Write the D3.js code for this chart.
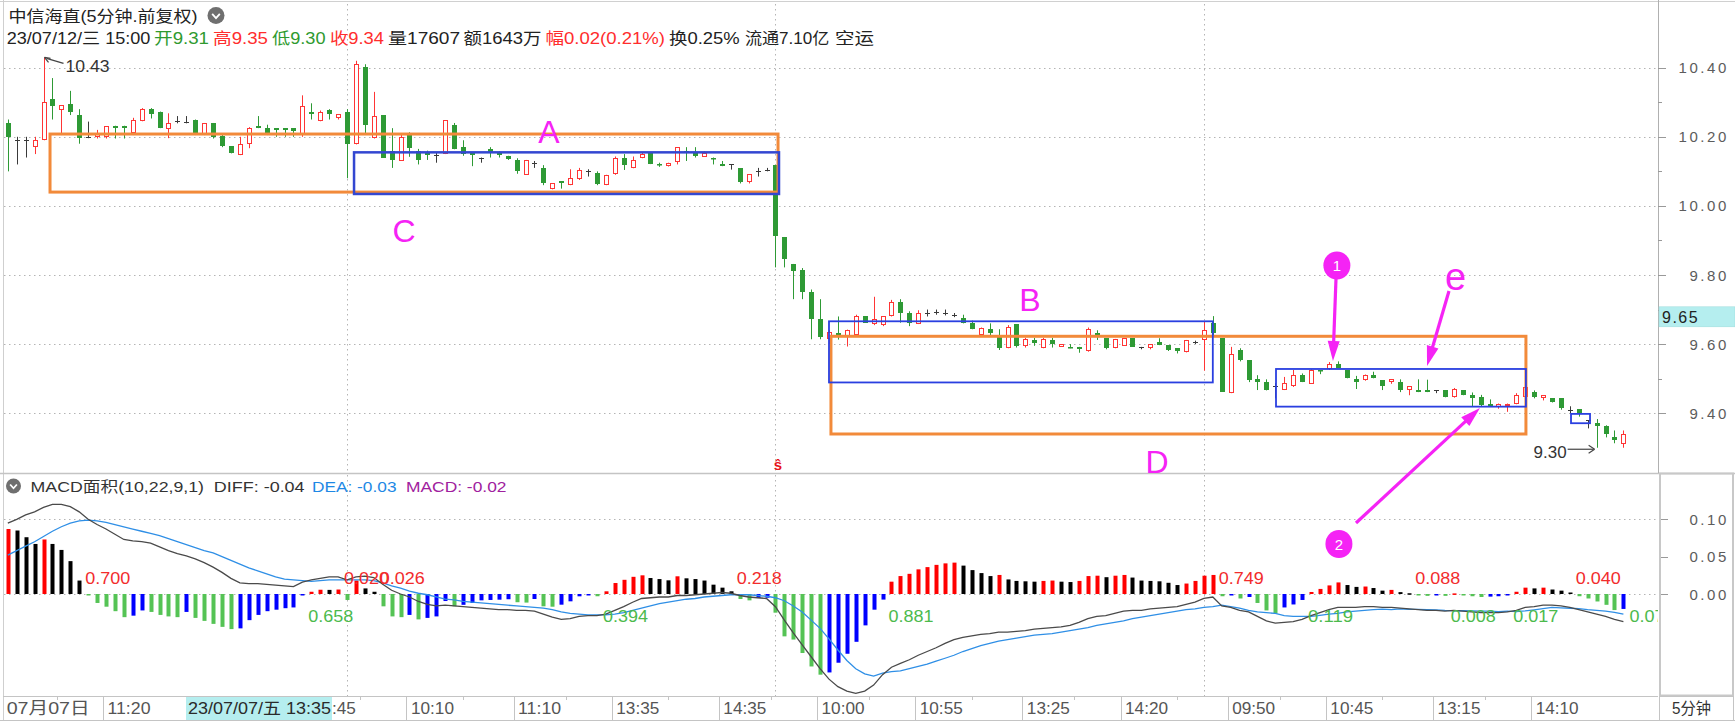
<!DOCTYPE html>
<html><head><meta charset="utf-8">
<script src="https://cdn.jsdelivr.net/npm/d3@7"></script>
<style>
html,body{margin:0;padding:0;background:#fff;}
svg{display:block;}
text{font-family:'Liberation Sans','Noto Sans CJK SC',sans-serif;}
</style></head><body>
<svg id="c" width="1735" height="725"></svg>
<script>
// ---------------- DATA ----------------
const opens=[10.24,10.19,10.19,10.17,10.19,10.31,10.277,10.294,10.263,10.20,
10.20,10.20,10.232,10.232,10.21,10.246,10.28,10.273,10.222,10.245,
10.243,10.25,10.205,10.24,10.202,10.173,10.147,10.18,10.232,10.225,
10.225,10.225,10.225,10.205,10.273,10.247,10.278,10.255,10.273,10.18,
10.403,10.196,10.263,10.16,10.13,10.21,10.16,10.155,10.148,10.15,
10.234,10.17,10.153,10.14,10.166,10.155,10.143,10.133,10.09,10.125,
10.11,10.05,10.072,10.06,10.077,10.10,10.094,10.06,10.092,10.14,
10.109,10.138,10.152,10.12,10.116,10.128,10.16,10.152,10.142,10.14,
10.12,10.12,10.109,10.07,10.10,10.105,10.118,9.91,9.832,9.815,
9.752,9.672,9.615,9.632,9.62,9.626,9.68,9.658,9.655,9.68,
9.723,9.69,9.658,9.69,9.692,9.69,9.685,9.675,9.66,9.626,
9.645,9.626,9.588,9.658,9.595,9.612,9.59,9.612,9.592,9.593,
9.592,9.58,9.632,9.617,9.588,9.595,9.617,9.592,9.588,9.607,
9.597,9.588,9.578,9.607,9.612,9.66,9.617,9.458,9.583,9.553,
9.498,9.49,9.48,9.467,9.478,9.51,9.485,9.525,9.527,9.543,
9.525,9.498,9.496,9.512,9.496,9.49,9.49,9.466,9.466,9.466,
9.466,9.467,9.447,9.466,9.453,9.448,9.428,9.419,9.421,9.428,
9.446,9.462,9.443,9.443,9.443,9.41,9.411,9.38,9.373,9.363,
9.331,9.31];
const highs=[10.25,10.20,10.20,10.20,10.43,10.37,10.29,10.333,10.28,10.244,
10.22,10.23,10.232,10.232,10.255,10.283,10.283,10.273,10.268,10.26,
10.26,10.25,10.24,10.24,10.205,10.173,10.20,10.228,10.26,10.235,
10.225,10.225,10.225,10.32,10.297,10.276,10.28,10.266,10.28,10.42,
10.41,10.33,10.263,10.225,10.21,10.213,10.165,10.16,10.155,10.248,
10.24,10.19,10.153,10.14,10.17,10.158,10.145,10.138,10.133,10.13,
10.118,10.065,10.072,10.106,10.11,10.106,10.10,10.09,10.143,10.15,
10.143,10.155,10.155,10.125,10.125,10.17,10.17,10.17,10.158,10.14,
10.13,10.12,10.109,10.092,10.11,10.11,10.118,9.91,9.832,9.82,
9.758,9.73,9.64,9.68,9.642,9.685,9.68,9.737,9.68,9.728,
9.73,9.695,9.698,9.70,9.70,9.70,9.69,9.685,9.668,9.648,
9.66,9.643,9.655,9.658,9.618,9.618,9.618,9.618,9.60,9.60,
9.592,9.648,9.64,9.617,9.615,9.617,9.617,9.592,9.60,9.617,
9.597,9.588,9.612,9.61,9.665,9.681,9.617,9.592,9.588,9.553,
9.51,9.498,9.487,9.505,9.525,9.515,9.527,9.525,9.548,9.55,
9.525,9.508,9.512,9.52,9.496,9.499,9.498,9.478,9.498,9.497,
9.466,9.467,9.473,9.466,9.46,9.453,9.44,9.428,9.428,9.458,
9.482,9.466,9.452,9.443,9.443,9.42,9.411,9.38,9.383,9.365,
9.35,9.35];
const lows=[10.10,10.12,10.14,10.15,10.19,10.25,10.205,10.263,10.18,10.196,
10.195,10.195,10.195,10.195,10.205,10.245,10.253,10.225,10.196,10.239,
10.239,10.205,10.205,10.195,10.17,10.152,10.147,10.167,10.225,10.205,
10.20,10.20,10.20,10.20,10.25,10.245,10.25,10.25,10.08,10.178,
10.21,10.195,10.14,10.11,10.13,10.142,10.12,10.133,10.125,10.15,
10.164,10.145,10.115,10.125,10.14,10.14,10.133,10.093,10.09,10.11,
10.06,10.048,10.05,10.06,10.075,10.085,10.06,10.06,10.09,10.104,
10.109,10.138,10.121,10.113,10.114,10.12,10.13,10.14,10.142,10.12,
10.115,10.105,10.065,10.065,10.085,10.10,9.822,9.822,9.73,9.73,
9.614,9.614,9.60,9.613,9.593,9.626,9.662,9.655,9.652,9.68,
9.662,9.652,9.658,9.68,9.685,9.683,9.678,9.66,9.643,9.626,
9.626,9.583,9.588,9.59,9.59,9.595,9.588,9.59,9.592,9.588,
9.575,9.578,9.612,9.585,9.588,9.595,9.593,9.585,9.585,9.597,
9.58,9.573,9.576,9.60,9.523,9.626,9.462,9.458,9.55,9.49,
9.467,9.466,9.443,9.467,9.476,9.49,9.485,9.513,9.525,9.532,
9.501,9.47,9.494,9.501,9.467,9.485,9.461,9.452,9.461,9.461,
9.458,9.446,9.445,9.452,9.419,9.419,9.419,9.413,9.404,9.426,
9.446,9.443,9.437,9.431,9.41,9.40,9.39,9.356,9.30,9.33,
9.313,9.30];
const closes=[10.20,10.19,10.19,10.19,10.30,10.29,10.292,10.271,10.196,10.20,
10.21,10.23,10.225,10.225,10.249,10.28,10.265,10.225,10.24,10.245,
10.243,10.205,10.24,10.20,10.173,10.152,10.18,10.225,10.225,10.21,
10.22,10.22,10.218,10.29,10.266,10.273,10.266,10.265,10.18,10.41,
10.234,10.26,10.14,10.133,10.20,10.167,10.133,10.148,10.148,10.248,
10.164,10.15,10.147,10.14,10.157,10.148,10.135,10.10,10.133,10.125,
10.065,10.065,10.065,10.08,10.104,10.10,10.063,10.09,10.14,10.118,
10.133,10.15,10.121,10.117,10.125,10.17,10.155,10.145,10.152,10.135,
10.115,10.12,10.07,10.092,10.10,10.105,9.913,9.845,9.812,9.752,
9.672,9.621,9.635,9.625,9.641,9.68,9.662,9.672,9.68,9.723,
9.69,9.662,9.69,9.69,9.692,9.69,9.685,9.66,9.643,9.648,
9.633,9.588,9.65,9.595,9.615,9.603,9.615,9.60,9.60,9.588,
9.587,9.643,9.622,9.588,9.615,9.617,9.593,9.592,9.60,9.597,
9.583,9.58,9.612,9.607,9.64,9.631,9.462,9.571,9.553,9.496,
9.491,9.468,9.48,9.488,9.51,9.49,9.525,9.521,9.542,9.532,
9.501,9.491,9.512,9.503,9.479,9.499,9.466,9.478,9.461,9.461,
9.466,9.446,9.471,9.452,9.443,9.423,9.419,9.428,9.428,9.452,
9.477,9.446,9.452,9.431,9.414,9.41,9.398,9.38,9.362,9.34,
9.323,9.34];
const macdHist=[0.087,0.085,0.076,0.067,0.073,0.067,0.059,0.044,0.018,-0.002,
-0.012,-0.017,-0.023,-0.031,-0.029,-0.022,-0.024,-0.028,-0.030,-0.031,
-0.024,-0.032,-0.036,-0.040,-0.044,-0.047,-0.046,-0.035,-0.028,-0.023,
-0.021,-0.019,-0.018,-0.002,0.003,0.0057,0.0055,0.006,-0.008,0.018,
0.0075,0.003,-0.0165,-0.030,-0.031,-0.028,-0.034,-0.032,-0.030,-0.0094,
-0.0165,-0.0145,-0.012,-0.0085,-0.008,-0.0076,-0.007,-0.011,-0.0115,-0.0067,
-0.0165,-0.017,-0.0143,-0.0098,-0.0031,-0.001,-0.003,0.0036,0.0147,0.019,
0.023,0.025,0.0214,0.020,0.0183,0.0237,0.021,0.020,0.018,0.0125,
0.0085,0.0036,-0.0067,-0.0085,-0.0054,-0.005,-0.025,-0.0567,-0.061,-0.079,
-0.097,-0.108,-0.105,-0.092,-0.080,-0.064,-0.042,-0.021,-0.0075,0.0165,
0.024,0.027,0.033,0.036,0.039,0.041,0.042,0.038,0.032,0.028,
0.024,0.0255,0.0195,0.0175,0.017,0.0165,0.0175,0.018,0.0165,0.016,
0.0175,0.024,0.0245,0.0225,0.0245,0.0255,0.022,0.018,0.0175,0.017,
0.015,0.012,0.014,0.0175,0.0245,0.0255,-0.003,-0.002,-0.006,-0.004,
-0.012,-0.022,-0.026,-0.018,-0.014,-0.008,0.0027,0.0068,0.0115,0.0155,
0.012,0.0095,0.010,0.008,0.0045,0.0055,0.0025,0.001,-0.0015,-0.0025,
-0.0015,-0.0025,0.0008,-0.0015,-0.003,-0.004,-0.0035,-0.003,-0.002,0.003,
0.0085,0.0075,0.0085,0.006,0.0045,0.002,-0.003,-0.006,-0.010,-0.0145,
-0.0215,-0.020];
const diffLine=[0.095,0.100,0.106,0.110,0.116,0.120,0.120,0.117,0.110,0.100,
0.093,0.087,0.080,0.073,0.071,0.070,0.068,0.063,0.058,0.054,
0.051,0.047,0.042,0.036,0.029,0.021,0.015,0.014,0.014,0.013,
0.012,0.011,0.010,0.016,0.019,0.021,0.023,0.023,0.019,0.023,
0.024,0.022,0.013,0.005,0.000,-0.004,-0.010,-0.014,-0.016,-0.015,
-0.016,-0.017,-0.018,-0.019,-0.020,-0.021,-0.021,-0.022,-0.022,-0.023,
-0.027,-0.031,-0.034,-0.033,-0.030,-0.029,-0.029,-0.027,-0.022,-0.017,
-0.011,-0.006,-0.005,-0.004,-0.004,-0.002,-0.002,-0.001,0.000,0.001,
0.002,0.001,-0.002,-0.004,-0.005,-0.006,-0.017,-0.035,-0.052,-0.068,
-0.084,-0.100,-0.114,-0.124,-0.130,-0.133,-0.130,-0.122,-0.108,-0.098,
-0.093,-0.088,-0.082,-0.077,-0.072,-0.066,-0.061,-0.058,-0.056,-0.054,
-0.053,-0.051,-0.051,-0.050,-0.049,-0.047,-0.046,-0.045,-0.044,-0.042,
-0.038,-0.033,-0.030,-0.029,-0.026,-0.023,-0.022,-0.022,-0.020,-0.019,
-0.018,-0.017,-0.014,-0.011,-0.006,-0.004,-0.016,-0.018,-0.022,-0.024,
-0.030,-0.036,-0.039,-0.038,-0.037,-0.034,-0.029,-0.025,-0.021,-0.018,
-0.018,-0.018,-0.017,-0.017,-0.018,-0.018,-0.019,-0.020,-0.021,-0.022,
-0.022,-0.023,-0.022,-0.023,-0.024,-0.025,-0.025,-0.025,-0.024,-0.022,
-0.018,-0.017,-0.015,-0.015,-0.016,-0.018,-0.021,-0.024,-0.027,-0.030,
-0.034,-0.037];
const deaLine=[0.052,0.058,0.064,0.070,0.077,0.084,0.090,0.095,0.098,0.099,
0.098,0.096,0.093,0.090,0.087,0.084,0.081,0.078,0.074,0.070,
0.066,0.062,0.058,0.055,0.050,0.045,0.040,0.035,0.031,0.027,
0.023,0.020,0.019,0.018,0.017,0.018,0.019,0.019,0.019,0.019,
0.019,0.018,0.015,0.011,0.008,0.004,0.001,-0.001,-0.004,-0.007,
-0.008,-0.010,-0.011,-0.012,-0.013,-0.014,-0.015,-0.016,-0.017,-0.018,
-0.019,-0.021,-0.024,-0.026,-0.027,-0.028,-0.028,-0.028,-0.027,-0.025,
-0.022,-0.019,-0.016,-0.013,-0.011,-0.009,-0.007,-0.006,-0.004,-0.003,
-0.002,-0.001,-0.001,-0.001,-0.002,-0.003,-0.005,-0.009,-0.016,-0.024,
-0.035,-0.046,-0.060,-0.075,-0.089,-0.100,-0.107,-0.110,-0.106,-0.104,
-0.103,-0.100,-0.097,-0.094,-0.090,-0.086,-0.082,-0.077,-0.073,-0.069,
-0.066,-0.063,-0.061,-0.059,-0.057,-0.055,-0.054,-0.053,-0.051,-0.049,
-0.047,-0.045,-0.042,-0.040,-0.038,-0.036,-0.033,-0.031,-0.029,-0.027,
-0.025,-0.023,-0.021,-0.020,-0.018,-0.017,-0.015,-0.017,-0.019,-0.022,
-0.024,-0.025,-0.026,-0.029,-0.030,-0.030,-0.030,-0.0285,-0.027,-0.0258,
-0.024,-0.0228,-0.022,-0.021,-0.0203,-0.0208,-0.020,-0.0205,-0.0205,-0.021,
-0.0213,-0.022,-0.0224,-0.0224,-0.0225,-0.023,-0.023,-0.0235,-0.023,-0.0235,
-0.0225,-0.0212,-0.0197,-0.018,-0.0185,-0.0191,-0.0195,-0.021,-0.022,-0.023,
-0.0245,-0.027];
const dayStarts=[38,86,134];
const xTickLabels=[[0,"07月07日"],[11,"11:20"],[34,"14:45"],[45,"10:10"],[57,"11:10"],[68,"13:35"],[80,"14:35"],[91,"10:00"],[102,"10:55"],[114,"13:25"],[125,"14:20"],[137,"09:50"],[148,"10:45"],[160,"13:15"],[171,"14:10"]];
const priceTicks=[10.40,10.20,10.00,9.80,9.60,9.40];
const priceMinorTicks=[10.30,10.10,9.90,9.70,9.50];
const macdTicks=[0.10,0.05,0.00];
const areaLabels=[[8,"0.700"],[33,"0.658"],[37,"0.020"],[41,"0.026"],[66,"0.394"],[81,"0.218"],[98,"0.881"],[135,"0.749"],[145,"0.119"],[157,"0.088"],[161,"0.008"],[168,"0.017"],[175,"0.040"],[181,"0.075"]];
const crossIndex=20, crossLabel="23/07/07/五 13:35";
const crossPrice=9.65;
// annotations in data space: [startIndex, endIndex, priceTop, priceBottom, kind]
const annoBoxes=[[4.73,86.29,10.208,10.040,"o"],[92.22,170.08,9.6226,9.3398,"o"],[38.79,86.4,10.155,10.0345,"b"],[92.0,135.0,9.666,9.489,"b2"],[142.08,170.08,9.528,9.419,"b2"],[175.13,177.26,9.398,9.371,"b2"]];
const annoLetters=[["A",60.63,10.182,32],["C",44.39,9.895,32],["B",114.52,9.696,32],["D",128.75,9.2255,32],["e",162.19,9.7566,38]];
const annoCircles=[["1",148.9,9.8275],["2",149.13,9.0214]];
const annoArrows=[[148.8,9.7885,148.46,9.5511],[161.46,9.7537,159.0,9.5366],[151.04,9.0822,164.93,9.4151]];

// ---------------- LAYOUT ----------------
const svg=d3.select('#c');
const N=closes.length;
const PR=1658, PB=473, MB=696, AB=720;
const x=d3.scaleLinear().domain([0,N-1]).range([7.8,7.8+(N-1)*8.926]);
const y=d3.scaleLinear().domain([9.40,10.40]).range([413.2,67.7]);
const ym=d3.scaleLinear().domain([0,0.10]).range([594,519.3]);
const RED="#ff3535", GREEN="#2e9a35", BLK="#3a3a3a", GRID="#b4b4b4", MAG="#f523f5";

svg.append('rect').attr('width',1735).attr('height',725).attr('fill','#fff');
const defs=svg.append('defs');
defs.append('clipPath').attr('id','cp').append('rect').attr('x',3).attr('y',0).attr('width',PR-3).attr('height',PB);
defs.append('clipPath').attr('id','cm').append('rect').attr('x',3).attr('y',PB).attr('width',PR-3).attr('height',MB-PB);

// frame lines
function ln(x1,y1,x2,y2,c,w,dash){const l=svg.append('line').attr('x1',x1).attr('y1',y1).attr('x2',x2).attr('y2',y2).attr('stroke',c).attr('stroke-width',w||1);if(dash)l.attr('stroke-dasharray',dash);return l;}
ln(0,1.5,1735,1.5,"#d0d0d0",1);
ln(3.5,0,3.5,AB,"#cfcfcf",1);
ln(0,PB+0.5,1735,PB+0.5,"#c4c4c4",1.5);
ln(3,MB+0.5,PR,MB+0.5,"#c4c4c4",1);
ln(0,AB+0.5,1735,AB+0.5,"#c4c4c4",1);
ln(PR+0.5,0,PR+0.5,PB,"#b0b0b0",1);

// grids
priceTicks.forEach(p=>ln(4,Math.round(y(p))+0.5,PR,Math.round(y(p))+0.5,GRID,1,"1.5,3.5"));
[0.10,0.00].forEach(v=>ln(4,Math.round(ym(v))+0.5,PR,Math.round(ym(v))+0.5,GRID,1,"1.5,3.5"));
dayStarts.forEach(i=>{const xx=Math.round(x(i))+0.5;ln(xx,4,xx,PB,GRID,1,"1.5,3.5");ln(xx,PB+2,xx,MB,GRID,1,"1.5,3.5");});

// right axis
priceTicks.forEach(p=>{const yy=Math.round(y(p))+0.5;ln(PR,yy,PR+8,yy,"#999",1);
  svg.append('text').attr('x',1729).attr('y',y(p)+5.5).attr('text-anchor','end').attr('font-size',15).attr('letter-spacing',2.6).attr('fill','#5c5c5c').text(p.toFixed(2));});
priceMinorTicks.forEach(p=>{const yy=Math.round(y(p))+0.5;ln(PR,yy,PR+4,yy,"#999",1);});
svg.append('rect').attr('x',1660).attr('y',PB+0.5).attr('width',73).attr('height',MB-PB-1).attr('fill','none').attr('stroke','#c8c8c8').attr('stroke-width',2);
macdTicks.forEach(v=>{const yy=Math.round(ym(v))+0.5;ln(1661,yy,1668,yy,"#999",1);
  svg.append('text').attr('x',1729).attr('y',ym(v)+5.5).attr('text-anchor','end').attr('font-size',15).attr('letter-spacing',2.6).attr('fill','#5c5c5c').text(v.toFixed(2));});
svg.append('rect').attr('x',1659.5).attr('y',MB+0.5).attr('width',74).attr('height',AB-MB).attr('fill','none').attr('stroke','#c4c4c4').attr('stroke-width',1);
svg.append('text').attr('x',1672).attr('y',714).attr('font-size',16).attr('fill','#333').attr('textLength',39).attr('lengthAdjust','spacingAndGlyphs').text("5分钟");

// candles
const gc=svg.append('g').attr('clip-path','url(#cp)');
closes.forEach((c,i)=>{
  const o=opens[i],h=highs[i],l=lows[i];
  const c0=Math.round(x(i)), cx=c0+0.5;
  const yt=Math.round(y(Math.max(o,c))), yb=Math.round(y(Math.min(o,c)));
  const yh=y(h), yl=y(l);
  if(c>o){
    gc.append('line').attr('x1',cx).attr('x2',cx).attr('y1',yh).attr('y2',yt).attr('stroke',RED);
    gc.append('line').attr('x1',cx).attr('x2',cx).attr('y1',yb).attr('y2',yl).attr('stroke',RED);
    gc.append('rect').attr('x',c0-1.5).attr('y',yt+0.5).attr('width',4).attr('height',Math.max(1,yb-yt-1)).attr('fill','#fff').attr('stroke',RED);
  } else if(c<o){
    gc.append('line').attr('x1',cx).attr('x2',cx).attr('y1',yh).attr('y2',yl).attr('stroke',GREEN);
    gc.append('rect').attr('x',c0-2).attr('y',yt).attr('width',5).attr('height',Math.max(1.5,yb-yt)).attr('fill',GREEN);
  } else {
    gc.append('line').attr('x1',cx).attr('x2',cx).attr('y1',yh).attr('y2',yl).attr('stroke',BLK);
    gc.append('line').attr('x1',c0-2).attr('x2',c0+3).attr('y1',yt+0.5).attr('y2',yt+0.5).attr('stroke',BLK);
  }
});

// max / min markers
const iMax=d3.maxIndex(highs), iMin=d3.minIndex(lows);
function arrowHead(g,x1,y1,x2,y2,len,wid,col){const a=Math.atan2(y2-y1,x2-x1);
  const bx=x2-len*Math.cos(a), by=y2-len*Math.sin(a), px=-Math.sin(a)*wid/2, py=Math.cos(a)*wid/2;
  g.append('path').attr('d',`M${x2},${y2}L${bx+px},${by+py}L${bx-px},${by-py}Z`).attr('fill',col);}
{const tx=x(iMax)+1, ty=y(highs[iMax]);
 ln(tx+19,ty+6,tx+2,ty+1,"#444",1.2);
 ln(tx,ty,tx+6,ty+1,"#444",1.2); ln(tx,ty,tx+4,ty+5,"#444",1.2);
 svg.append('text').attr('x',tx+21).attr('y',ty+15).attr('font-size',16).attr('fill','#333').attr('textLength',44).attr('lengthAdjust','spacingAndGlyphs').text(highs[iMax].toFixed(2));}
{const tx=x(iMin)-2, ty=y(lows[iMin])+1.5;
 ln(tx-27,ty,tx-1,ty,"#444",1.2);
 ln(tx,ty,tx-6,ty-4,"#444",1.2); ln(tx,ty,tx-6,ty+4,"#444",1.2);
 svg.append('text').attr('x',tx-61).attr('y',ty+9).attr('font-size',16).attr('fill','#333').attr('textLength',33).attr('lengthAdjust','spacingAndGlyphs').text(lows[iMin].toFixed(2));}

// "S" signal mark
svg.append('text').attr('x',x(dayStarts[1])+2.5).attr('y',470).attr('text-anchor','middle').attr('font-size',15).attr('font-weight','bold').attr('fill','#e8141a').text("ŝ");

// annotations
const ga=svg.append('g');
annoBoxes.forEach(b=>{
  const sty={o:["#f28a3a",3],b:["#3347d1",2.5],b2:["#2a3fe0",1.8]}[b[4]];
  ga.append('rect').attr('x',x(b[0])).attr('y',y(b[2])).attr('width',x(b[1])-x(b[0])).attr('height',y(b[3])-y(b[2])).attr('fill','none').attr('stroke',sty[0]).attr('stroke-width',sty[1]);
});
annoLetters.forEach(l=>ga.append('text').attr('x',x(l[1])).attr('y',y(l[2])).attr('text-anchor','middle').attr('font-size',l[3]).attr('fill',MAG).text(l[0]));
annoCircles.forEach(c=>{ga.append('ellipse').attr('cx',x(c[1])).attr('cy',y(c[2])).attr('rx',13.5).attr('ry',14).attr('fill',MAG);
  ga.append('text').attr('x',x(c[1])).attr('y',y(c[2])+5.5).attr('text-anchor','middle').attr('font-size',15).attr('fill','#fff').text(c[0]);});
annoArrows.forEach(a=>{const x1=x(a[0]),y1=y(a[1]),x2=x(a[2]),y2=y(a[3]);const an=Math.atan2(y2-y1,x2-x1);
  ga.append('line').attr('x1',x1).attr('y1',y1).attr('x2',x2-12*Math.cos(an)).attr('y2',y2-12*Math.sin(an)).attr('stroke',MAG).attr('stroke-width',3.2);
  arrowHead(ga,x1,y1,x2,y2,20,12,MAG);});

// MACD
const gm=svg.append('g').attr('clip-path','url(#cm)');
macdHist.forEach((v,i)=>{
  const pv=i>0?macdHist[i-1]:null;
  let col;
  if(v>=0) col=(pv===null||pv<0||v>=pv)?"#ff0000":"#000000";
  else col=(pv===null||pv>=0||v<=pv)?"#55c355":"#0000ff";
  const y0=ym(0), y1=ym(v);
  gm.append('rect').attr('x',Math.round(x(i))-1.5).attr('y',Math.min(y0,y1)).attr('width',4).attr('height',Math.max(1.5,Math.abs(y1-y0))).attr('fill',col);
});
const lineGen=d3.line().x((d,i)=>x(i)).y(d=>ym(d));
gm.append('path').attr('d',lineGen(deaLine)).attr('fill','none').attr('stroke','#2f8fe6').attr('stroke-width',1.3);
gm.append('path').attr('d',lineGen(diffLine)).attr('fill','none').attr('stroke','#4a4a4a').attr('stroke-width',1.3);
areaLabels.forEach(a=>{const pos=macdHist[a[0]]>=0;
  gm.append('text').attr('x',x(a[0])+6).attr('y',pos?ym(0)-10:ym(0)+28).attr('font-size',16).attr('fill',pos?"#f22c2c":"#4cba4c").attr('textLength',45).attr('lengthAdjust','spacingAndGlyphs').text(a[1]);});

// x axis
xTickLabels.forEach((t,k)=>{const xx=Math.round(x(t[0]))-2.5;
  if(k>0) ln(xx,MB,xx,AB,"#c4c4c4",1);
  const wdt=t[1].length>5?83:43;
  svg.append('text').attr('x',k===0?6.7:x(t[0])+1.5).attr('y',714).attr('font-size',17).attr('fill','#555').attr('textLength',wdt).attr('lengthAdjust','spacingAndGlyphs').text(t[1]);
  if(k<xTickLabels.length-1){const mx=Math.round((x(t[0])+x(xTickLabels[k+1][0]))/2)+0.5;ln(mx,MB,mx,MB+4,"#c4c4c4",1);}
});
{const bx=Math.round(x(crossIndex));
 svg.append('rect').attr('x',bx).attr('y',MB+1).attr('width',146).attr('height',AB-MB-1).attr('fill','#b5eeef');
 svg.append('text').attr('x',bx+2).attr('y',714).attr('font-size',16).attr('fill','#2a2a2a').attr('textLength',143).attr('lengthAdjust','spacingAndGlyphs').text(crossLabel);}
{const yb=y(crossPrice);
 svg.append('rect').attr('x',1659).attr('y',yb-20).attr('width',76).attr('height',20).attr('fill','#b5eeef').attr('stroke','#9adada').attr('stroke-width',0.5);
 svg.append('text').attr('x',1662).attr('y',yb-4).attr('font-size',16).attr('letter-spacing',1.5).attr('fill','#222').text(crossPrice.toFixed(2));}

// headers
function icon(cx,cy,r){svg.append('circle').attr('cx',cx).attr('cy',cy).attr('r',r).attr('fill','#6f6f6f');
  svg.append('path').attr('d',`M${cx-r*0.45},${cy-r*0.2}L${cx},${cy+r*0.3}L${cx+r*0.45},${cy-r*0.2}`).attr('fill','none').attr('stroke','#fff').attr('stroke-width',1.8);}
function seg(t,x0,x1,yb,col,fs){svg.append('text').attr('x',x0).attr('y',yb).attr('font-size',fs||16).attr('fill',col).attr('textLength',x1-x0).attr('lengthAdjust','spacingAndGlyphs').text(t);}
seg("中信海直(5分钟.前复权)",8.4,197.5,21.5,"#222");
icon(216,15.5,8.5);
const HG="#2f9a2f", HR="#ff2d2d", HK="#222";
[["23/07/12/三 15:00",6.7,150.4,HK],["开9.31",154,209,HG],["高9.35",213,268,HR],["低9.30",272,325.5,HG],["收9.34",330,384,HR],["量17607",388,460,HK],["额1643万",463.5,541.5,HK],["幅0.02(0.21%)",545.5,665,HR],["换0.25%",669,739.6,HK],["流通7.10亿",745,829.4,HK],["空运",835,874,HK]].forEach(s=>seg(s[0],s[1],s[2],44,s[3]));
icon(13.5,486,7.5);
[["MACD面积(10,22,9,1)",30.6,204,"#333"],["DIFF: -0.04",213.8,304.6,"#333"],["DEA: -0.03",312,396.5,"#1e88e5"],["MACD: -0.02",406,506.5,"#a0209e"]].forEach(s=>seg(s[0],s[1],s[2],491.5,s[3],15));
</script>
</body></html>
